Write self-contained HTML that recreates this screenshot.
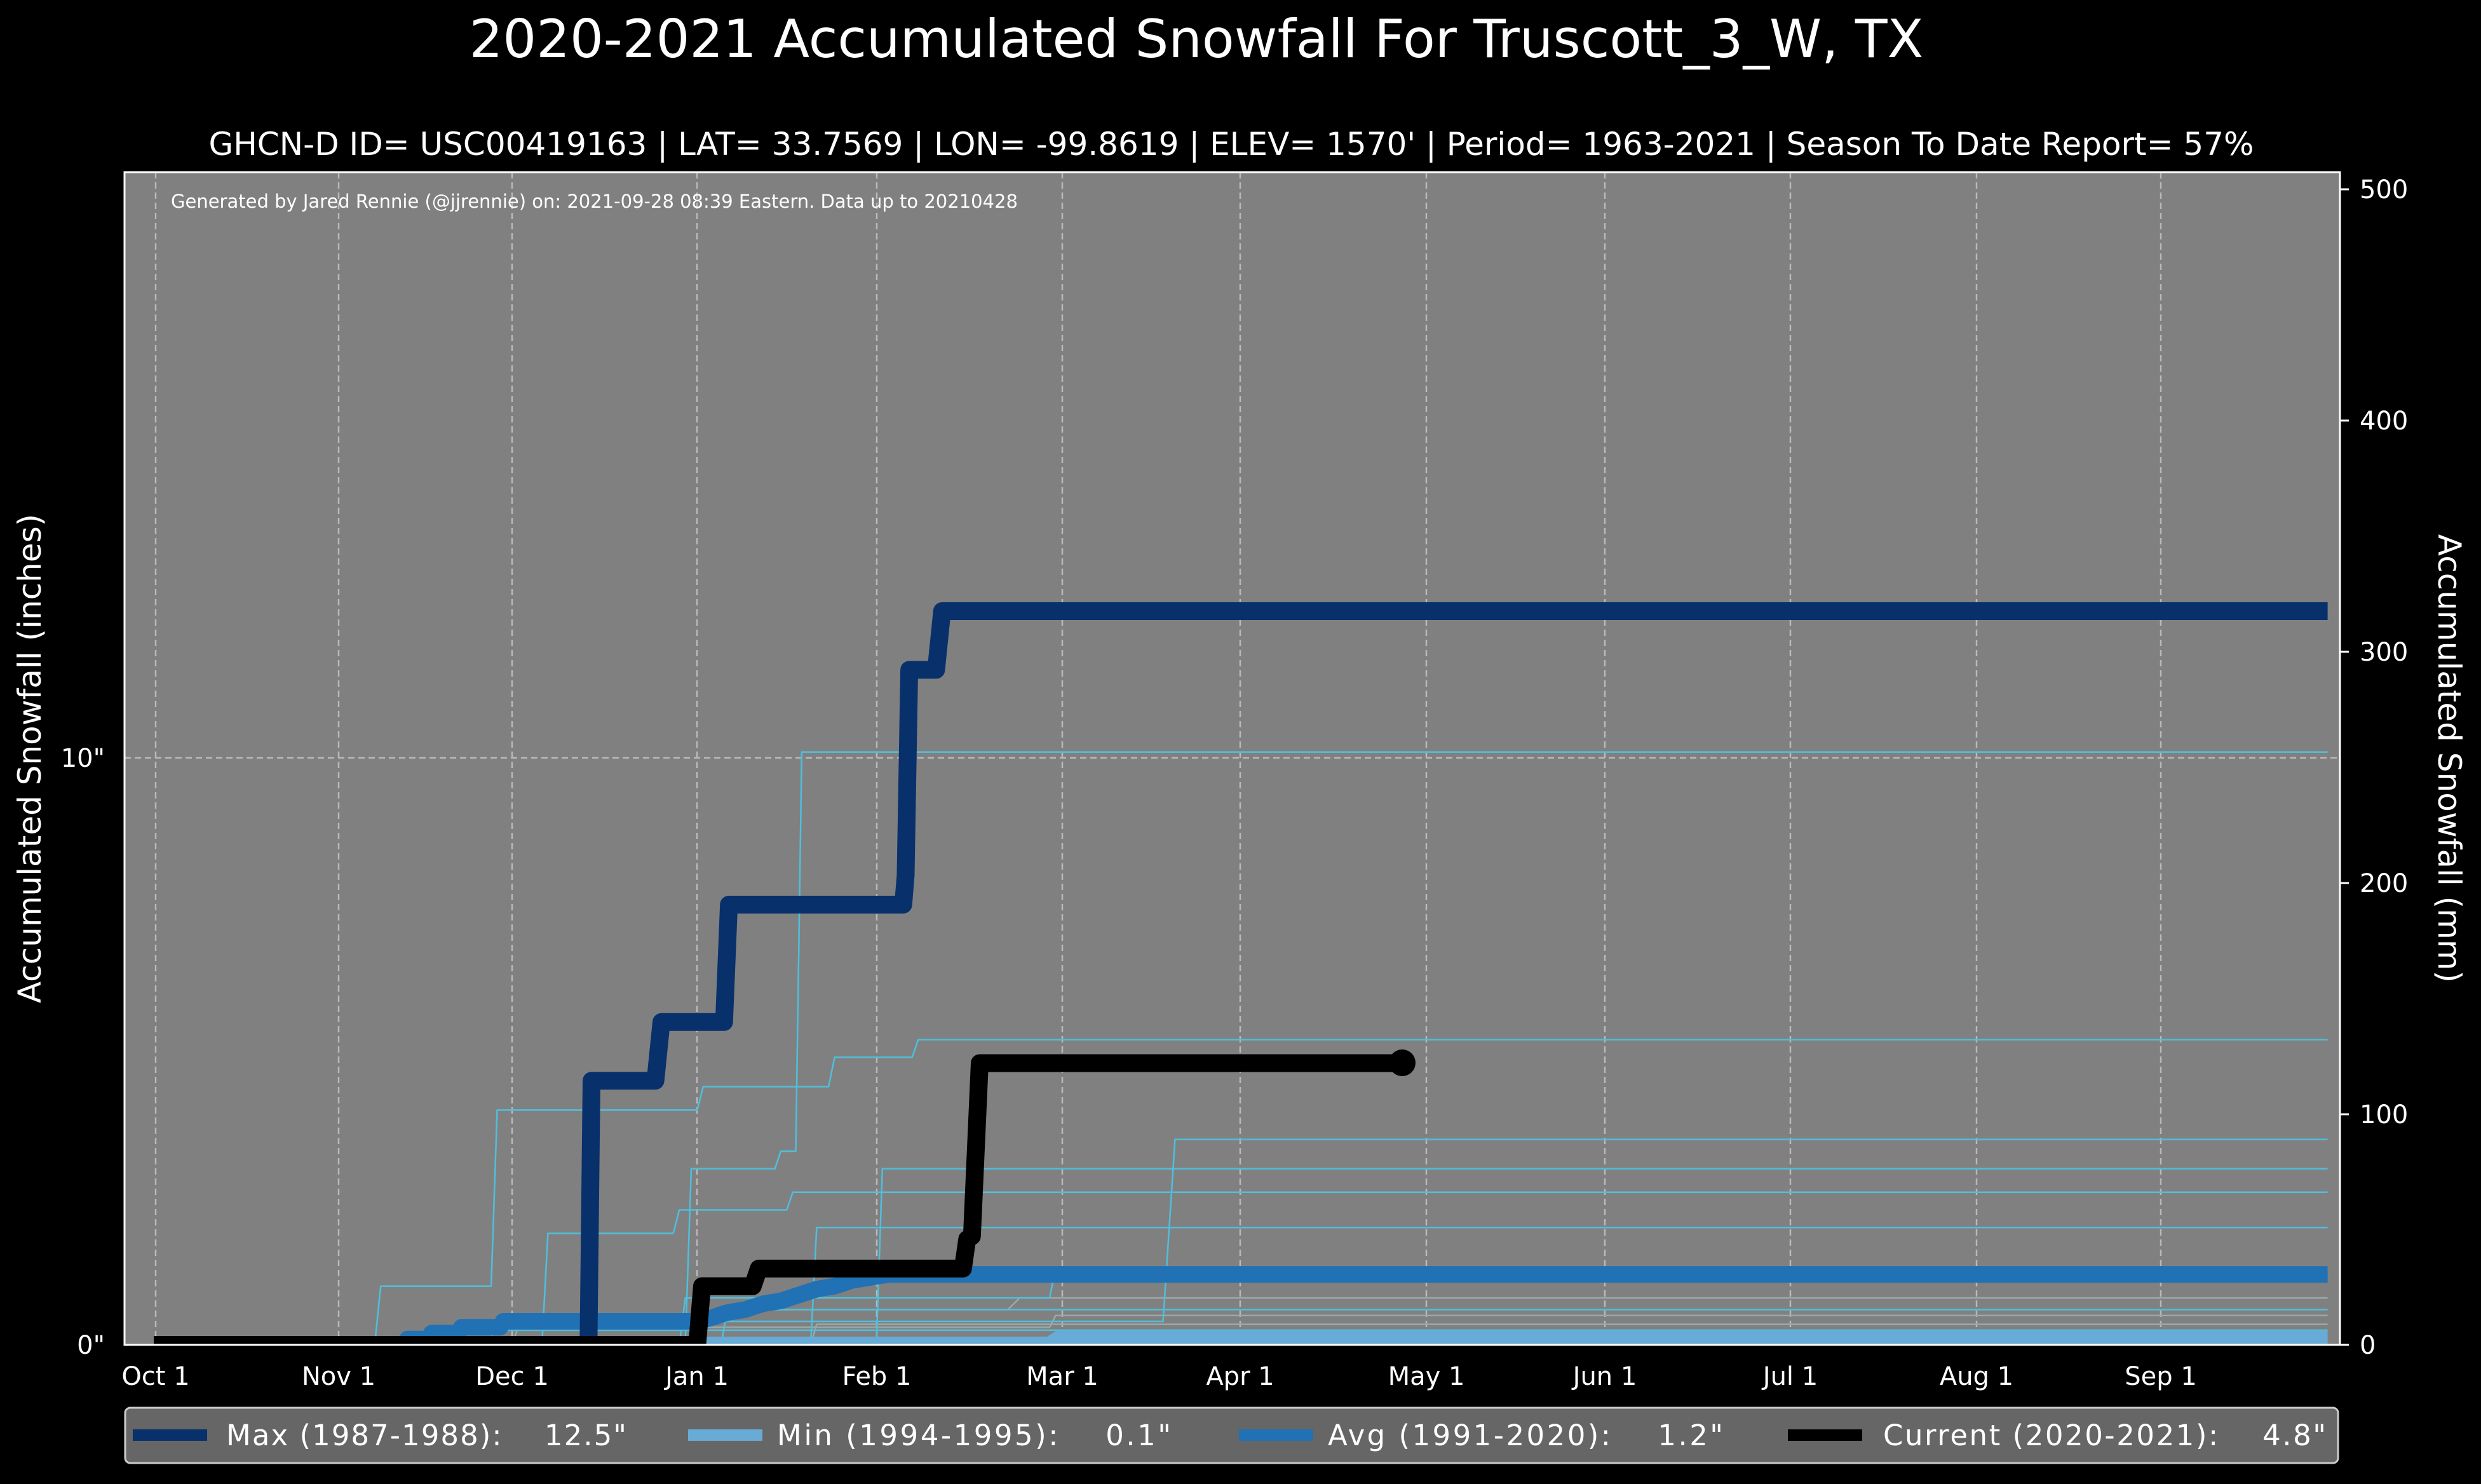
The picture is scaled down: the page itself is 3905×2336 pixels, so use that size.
<!DOCTYPE html>
<html><head><meta charset="utf-8"><style>
html,body{margin:0;padding:0;background:#000;}
svg{display:block;}
text{font-family:"DejaVu Sans","Liberation Sans",sans-serif;fill:#fff;}
</style></head><body>
<svg width="3905" height="2336" viewBox="0 0 3905 2336" xmlns="http://www.w3.org/2000/svg">
<defs><clipPath id="c"><rect x="196" y="271" width="3487" height="1846"/></clipPath></defs>
<rect width="3905" height="2336" fill="#000"/>
<text x="1883" y="90" font-size="83" text-anchor="middle">2020-2021 Accumulated Snowfall For Truscott_3_W, TX</text>
<text x="1938" y="244" font-size="50" text-anchor="middle">GHCN-D ID= USC00419163 | LAT= 33.7569 | LON= -99.8619 | ELEV= 1570' | Period= 1963-2021 | Season To Date Report= 57%</text>
<rect x="196" y="271" width="3487" height="1846" fill="#808080"/>
<g stroke="#c8c8c8" stroke-width="2.5" stroke-dasharray="10,6" opacity="0.8">
<line x1="245" y1="271" x2="245" y2="2117"/><line x1="533" y1="271" x2="533" y2="2117"/><line x1="806" y1="271" x2="806" y2="2117"/><line x1="1097" y1="271" x2="1097" y2="2117"/><line x1="1380" y1="271" x2="1380" y2="2117"/><line x1="1672" y1="271" x2="1672" y2="2117"/><line x1="1952" y1="271" x2="1952" y2="2117"/><line x1="2245" y1="271" x2="2245" y2="2117"/><line x1="2526" y1="271" x2="2526" y2="2117"/><line x1="2818" y1="271" x2="2818" y2="2117"/><line x1="3111" y1="271" x2="3111" y2="2117"/><line x1="3401" y1="271" x2="3401" y2="2117"/>
<line x1="196" y1="1193" x2="3683" y2="1193"/>
</g>
<text x="269" y="327" font-size="29">Generated by Jared Rennie (@jjrennie) on: 2021-09-28 08:39 Eastern. Data up to 20210428</text>
<g clip-path="url(#c)">
<g transform="translate(242,2117) scale(9.4,-92.4)" fill="none" stroke-linejoin="round">
<g stroke="#9aa9a9" stroke-width="2.5">
<polyline vector-effect="non-scaling-stroke" points="0,0 60,0 61,0.3 150,0.3 151,0.5 364,0.5"/>
<polyline vector-effect="non-scaling-stroke" points="0,0 95,0 96,0.6 143,0.6 145,0.8 364,0.8"/>
<polyline vector-effect="non-scaling-stroke" points="0,0 110,0 111,0.35 364,0.35"/>
</g>
<g stroke="#4fbfdc" stroke-width="2.5">
<polyline vector-effect="non-scaling-stroke" points="0,0 37,0 38,1.0 56.5,1.0 57.5,4.0 91,4.0 92,4.4 113,4.4 114,4.9 127,4.9 128,5.2 364,5.2"/>
<polyline vector-effect="non-scaling-stroke" points="0,0 65,0 66,1.9 87,1.9 88,2.3 106,2.3 107,2.6 364,2.6"/>
<polyline vector-effect="non-scaling-stroke" points="0,0 89,0 90,3.0 104,3.0 105,3.3 107.5,3.3 108.5,10.1 364,10.1"/>
<polyline vector-effect="non-scaling-stroke" points="0,0 90,0 91,0.4 169,0.4 171,3.5 364,3.5"/>
<polyline vector-effect="non-scaling-stroke" points="0,0 121,0 122,3.0 364,3.0"/>
<polyline vector-effect="non-scaling-stroke" points="0,0 88,0 89,0.8 150,0.8 151,1.3 364,1.3"/>
<polyline vector-effect="non-scaling-stroke" points="0,0 56,0 57,0.25 364,0.25"/>
<polyline vector-effect="non-scaling-stroke" points="0,0 95,0 96,0.6 364,0.6"/>
<polyline vector-effect="non-scaling-stroke" points="0,0 110,0 111,2.0 364,2.0"/>
</g>
<polyline vector-effect="non-scaling-stroke" stroke="#67abd6" stroke-width="26" points="92,0 150,0 151.5,0.1 364,0.1"/>
<polyline vector-effect="non-scaling-stroke" stroke="#2171b5" stroke-width="26" points="42,0 42.5,0.1 46,0.1 46.5,0.2 51,0.2 51.5,0.3 58,0.3 58.5,0.4 91,0.4 93,0.45 96,0.55 99,0.6 102,0.7 105,0.75 108,0.85 111,0.95 114,1.0 117,1.1 120,1.15 123,1.2 364,1.2"/>
<polyline vector-effect="non-scaling-stroke" stroke="#08306b" stroke-width="28" points="0,0 72.8,0 73.3,4.5 84,4.5 85,5.5 95.5,5.5 96.3,7.5 125.5,7.5 125.9,8.0 126.5,11.5 131,11.5 132,12.5 364,12.5"/>
<polyline vector-effect="non-scaling-stroke" stroke="#000" stroke-width="28" points="0,0 91,0 91.8,1.0 100.3,1.0 101.3,1.3 135.5,1.3 136.2,1.8 137,1.85 138.3,4.8 209,4.8"/>
</g>
</g>
<circle cx="2207" cy="1673" r="21" fill="#000"/>
<rect x="196" y="271" width="3487" height="1846" fill="none" stroke="#fff" stroke-width="3"/>
<g font-size="40" text-anchor="middle">
<text x="245" y="2180">Oct 1</text><text x="533" y="2180">Nov 1</text><text x="806" y="2180">Dec 1</text><text x="1097" y="2180">Jan 1</text><text x="1380" y="2180">Feb 1</text><text x="1672" y="2180">Mar 1</text><text x="1952" y="2180">Apr 1</text><text x="2245" y="2180">May 1</text><text x="2526" y="2180">Jun 1</text><text x="2818" y="2180">Jul 1</text><text x="3111" y="2180">Aug 1</text><text x="3401" y="2180">Sep 1</text>
</g>
<g font-size="40" text-anchor="end">
<text x="165" y="1207">10"</text><text x="165" y="2131">0"</text>
</g>
<g stroke="#fff" stroke-width="3">
<line x1="3683" y1="298" x2="3697" y2="298"/><line x1="3683" y1="662" x2="3697" y2="662"/><line x1="3683" y1="1026" x2="3697" y2="1026"/><line x1="3683" y1="1390" x2="3697" y2="1390"/><line x1="3683" y1="1754" x2="3697" y2="1754"/><line x1="3683" y1="2117" x2="3697" y2="2117"/>
</g>
<g font-size="40">
<text x="3714" y="312">500</text><text x="3714" y="676">400</text><text x="3714" y="1040">300</text><text x="3714" y="1404">200</text><text x="3714" y="1768">100</text><text x="3714" y="2131">0</text>
</g>
<text transform="translate(64,1194) rotate(-90)" font-size="50" text-anchor="middle">Accumulated Snowfall (inches)</text>
<text transform="translate(3838,1194) rotate(90)" font-size="50" text-anchor="middle">Accumulated Snowfall (mm)</text>
<rect x="197" y="2216" width="3483" height="87" rx="8" fill="#666" stroke="#ccc" stroke-width="3"/>
<g stroke-width="18">
<line x1="209" y1="2259" x2="326" y2="2259" stroke="#08306b"/>
<line x1="1083" y1="2259" x2="1200" y2="2259" stroke="#67abd6"/>
<line x1="1950" y1="2259" x2="2067" y2="2259" stroke="#2171b5"/>
<line x1="2814" y1="2259" x2="2931" y2="2259" stroke="#000"/>
</g>
<g font-size="45">
<text x="356" y="2275" textLength="630" lengthAdjust="spacing">Max (1987-1988):&#160;&#160;&#160;&#160;12.5"</text>
<text x="1223" y="2275" textLength="620" lengthAdjust="spacing">Min (1994-1995):&#160;&#160;&#160;&#160;0.1"</text>
<text x="2090" y="2275" textLength="622" lengthAdjust="spacing">Avg (1991-2020):&#160;&#160;&#160;&#160;1.2"</text>
<text x="2964" y="2275" textLength="697" lengthAdjust="spacing">Current (2020-2021):&#160;&#160;&#160;&#160;4.8"</text>
</g>
</svg>
</body></html>
